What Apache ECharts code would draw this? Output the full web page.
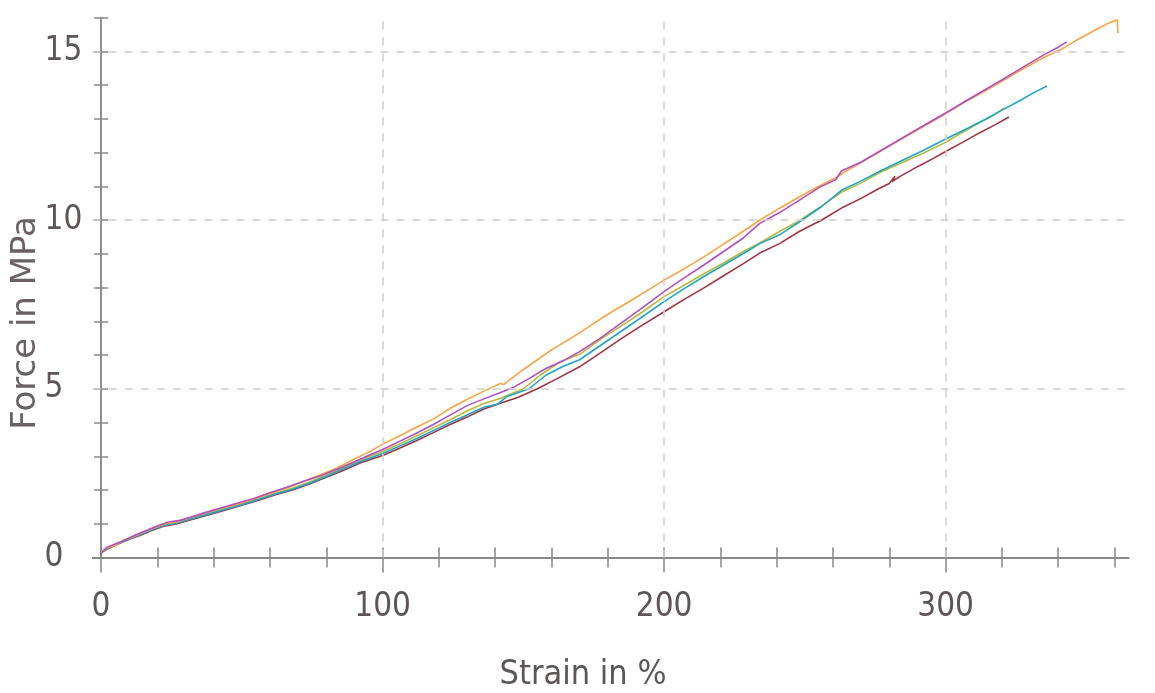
<!DOCTYPE html>
<html>
<head>
<meta charset="utf-8">
<script src="https://cdn.jsdelivr.net/npm/echarts@6/dist/echarts.min.js"></script>
<style>
  html, body { margin: 0; padding: 0; background: #fff; }
  #chart { width: 1155px; height: 693px; }
</style>
</head>
<body>
<div id="chart"></div>
<script>
// tick positions and labels
const xTicks = [0, 20, 40, 60, 80, 100, 120, 140, 160, 180, 200, 220, 240, 260, 280, 300, 320, 340, 360]
const xLabels = [0, 100, 200, 300]
const yTicks = [0, 1, 2, 3, 4, 5, 6, 7, 8, 9, 10, 11, 12, 13, 14, 15, 16]
const yLabels = [0, 5, 10, 15]
const xGrid = [100, 200, 300]
const yGrid = [5, 10, 15]

// strain (%) / force (MPa) per specimen
const orange = [[0,0.15],[2,0.28],[5,0.36],[8,0.52],[11,0.6],[15,0.75],[19,0.88],[23,1.0],[27,1.05],[31,1.16],[36,1.3],[41,1.42],[47,1.55],[53,1.7],[60,1.9],[66,2.06],[72,2.26],[78,2.45],[84,2.66],[90,2.92],[96,3.16],[100,3.36],[106,3.6],[112,3.86],[118,4.1],[124,4.42],[130,4.68],[136,4.93],[142,5.16],[143,5.12],[148,5.45],[154,5.8],[160,6.15],[167,6.5],[174,6.88],[181,7.26],[188,7.6],[195,7.96],[200,8.22],[207,8.55],[214,8.9],[221,9.28],[228,9.66],[234,10.0],[241,10.35],[248,10.68],[255,11.0],[262,11.3],[264,11.42],[270,11.7],[277,12.04],[284,12.38],[291,12.72],[300,13.15],[307,13.5],[314,13.82],[321,14.16],[328,14.5],[335,14.82],[341,15.05],[347,15.35],[353,15.62],[358,15.84],[361,15.93],[361.2,15.54]]
const purple = [[0,0.12],[2,0.3],[5,0.4],[8,0.5],[12,0.66],[16,0.8],[20,0.93],[24,1.05],[28,1.1],[32,1.2],[37,1.33],[42,1.45],[48,1.6],[54,1.74],[60,1.92],[66,2.08],[72,2.26],[78,2.42],[84,2.62],[90,2.84],[96,3.06],[100,3.2],[106,3.44],[112,3.68],[118,3.94],[124,4.22],[130,4.5],[136,4.7],[141,4.86],[146,5.02],[152,5.3],[158,5.6],[164,5.82],[170,6.1],[177,6.48],[184,6.9],[191,7.32],[200,7.88],[207,8.28],[214,8.66],[221,9.06],[228,9.46],[234,9.9],[241,10.22],[248,10.58],[255,10.96],[261,11.2],[263,11.45],[270,11.72],[277,12.06],[284,12.4],[291,12.74],[300,13.17],[307,13.52],[314,13.86],[321,14.2],[328,14.55],[335,14.9],[340,15.12],[343,15.28]]
const olive = [[0,0.14],[3,0.3],[6,0.42],[10,0.56],[14,0.7],[18,0.84],[22,0.95],[27,1.04],[32,1.16],[38,1.3],[44,1.46],[50,1.6],[56,1.75],[62,1.9],[68,2.05],[74,2.24],[80,2.44],[86,2.66],[92,2.88],[100,3.14],[106,3.36],[112,3.6],[118,3.84],[124,4.08],[130,4.34],[136,4.56],[142,4.72],[150,5.0],[156,5.4],[163,5.8],[170,6.02],[177,6.44],[184,6.82],[191,7.2],[200,7.73],[207,8.06],[214,8.4],[221,8.72],[228,9.06],[234,9.32],[241,9.66],[248,9.98],[256,10.42],[263,10.82],[270,11.1],[277,11.42],[284,11.68],[292,11.98],[300,12.3],[306,12.6],[312,12.88],[317,13.1],[320.8,13.32]]
const teal = [[0,0.16],[3,0.3],[6,0.42],[10,0.55],[14,0.68],[18,0.82],[22,0.94],[27,1.02],[32,1.14],[38,1.28],[44,1.42],[50,1.56],[56,1.72],[62,1.88],[68,2.02],[74,2.2],[80,2.4],[86,2.62],[92,2.84],[100,3.08],[106,3.3],[112,3.52],[118,3.76],[124,4.0],[130,4.22],[136,4.45],[141,4.55],[144,4.76],[152,5.0],[158,5.4],[164,5.66],[170,5.86],[177,6.26],[184,6.66],[191,7.06],[200,7.58],[207,7.96],[214,8.32],[221,8.66],[228,9.0],[234,9.3],[241,9.56],[248,9.94],[256,10.4],[263,10.88],[270,11.16],[277,11.46],[284,11.74],[292,12.06],[300,12.4],[307,12.68],[314,12.98],[321,13.3],[326,13.52],[331,13.76],[336,13.97]]
const maroon = [[0,0.15],[3,0.28],[6,0.4],[10,0.54],[14,0.66],[18,0.8],[22,0.92],[27,1.0],[32,1.12],[38,1.26],[44,1.4],[50,1.55],[56,1.7],[62,1.86],[68,2.0],[74,2.18],[80,2.38],[86,2.58],[92,2.8],[100,3.02],[106,3.24],[112,3.46],[118,3.7],[124,3.94],[130,4.16],[136,4.4],[142,4.58],[148,4.74],[155,5.0],[162,5.3],[170,5.65],[177,6.04],[184,6.44],[191,6.82],[200,7.28],[207,7.64],[214,7.98],[221,8.34],[228,8.7],[234,9.02],[241,9.3],[248,9.66],[256,10.0],[263.6,10.38],[270,10.64],[276,10.92],[280,11.08],[282,11.3],[281,11.14],[284,11.3],[290,11.58],[296,11.84],[300,12.03],[306,12.3],[312,12.58],[318,12.84],[322.5,13.05]]

const axisColor = '#8c8686'
const textColor = '#5e5656'
const narrow = '"DejaVu Sans Condensed", "Liberation Sans Narrow", Roboto, sans-serif'

const xBase = { type: 'value', min: -3, max: 365, gridIndex: 0, position: 'bottom' }
const yBase = { type: 'value', min: 0, max: 16, gridIndex: 0, position: 'left' }

const line = { show: true, lineStyle: { color: axisColor, width: 1.5 } }

const chart = echarts.init(document.getElementById('chart'))

function lineSeries(name, data, color) {
  return {
    name,
    type: 'line',
    data,
    symbol: 'none',
    lineStyle: { color, width: 1.6 },
    itemStyle: { color },
    silent: true
  }
}

const series = [
  lineSeries('maroon', maroon, '#a03443'),
  lineSeries('olive', olive, '#b9b83a'),
  lineSeries('teal', teal, '#1fa5c4'),
  lineSeries('orange', orange, '#f8a444'),
  lineSeries('purple', purple, '#b04fc0')
]
series[0].markLine = {
  silent: true,
  symbol: 'none',
  label: { show: false },
  lineStyle: { color: '#d2cdcd', type: [8, 8], width: 1.5 },
  data: xGrid.map(v => ({ xAxis: v })).concat(yGrid.map(v => ({ yAxis: v })))
}

chart.setOption({
  animation: false,
  backgroundColor: '#fff',
  grid: { left: 92.6, right: 26.4, top: 17.5, bottom: 135.5 },
  xAxis: [
    {
      ...xBase,
      axisLine: line,
      axisTick: { show: true, customValues: xTicks, length: 10, lineStyle: { color: axisColor, width: 1.5 } },
      axisLabel: { show: true, customValues: xLabels, margin: 33, fontSize: 33, fontFamily: narrow, color: textColor },
      splitLine: { show: false }
    },
    {
      ...xBase,
      axisLine: line,
      axisTick: { show: true, inside: true, customValues: xTicks, length: 10, lineStyle: { color: axisColor, width: 1.5 } },
      axisLabel: { show: false },
      splitLine: { show: false }
    },
    {
      ...xBase,
      axisLine: line,
      axisTick: { show: true, customValues: xLabels, length: 15, lineStyle: { color: axisColor, width: 1.5 } },
      axisLabel: { show: false },
      splitLine: { show: false }
    }
  ],
  yAxis: [
    {
      ...yBase,
      axisLine: line,
      axisTick: { show: true, customValues: yTicks, length: 7, lineStyle: { color: axisColor, width: 1.5 } },
      axisLabel: { show: true, customValues: yLabels, margin: 48, align: 'left', fontSize: 33, fontFamily: narrow, color: textColor },
      splitLine: { show: false }
    },
    {
      ...yBase,
      axisLine: line,
      axisTick: { show: true, inside: true, customValues: yTicks, length: 7, lineStyle: { color: axisColor, width: 1.5 } },
      axisLabel: { show: false },
      splitLine: { show: false }
    }
  ],
  graphic: [
    {
      type: 'text',
      x: 583,
      y: 675,
      style: { text: 'Strain in %', align: 'center', verticalAlign: 'middle', font: '34px ' + narrow, fill: textColor }
    },
    {
      type: 'text',
      x: 26,
      y: 323,
      rotation: Math.PI / 2,
      style: { text: 'Force in MPa', align: 'center', verticalAlign: 'middle', font: '34px "DejaVu Sans", sans-serif', fill: '#6a6262' }
    }
  ],
  series
})
</script>
</body>
</html>
